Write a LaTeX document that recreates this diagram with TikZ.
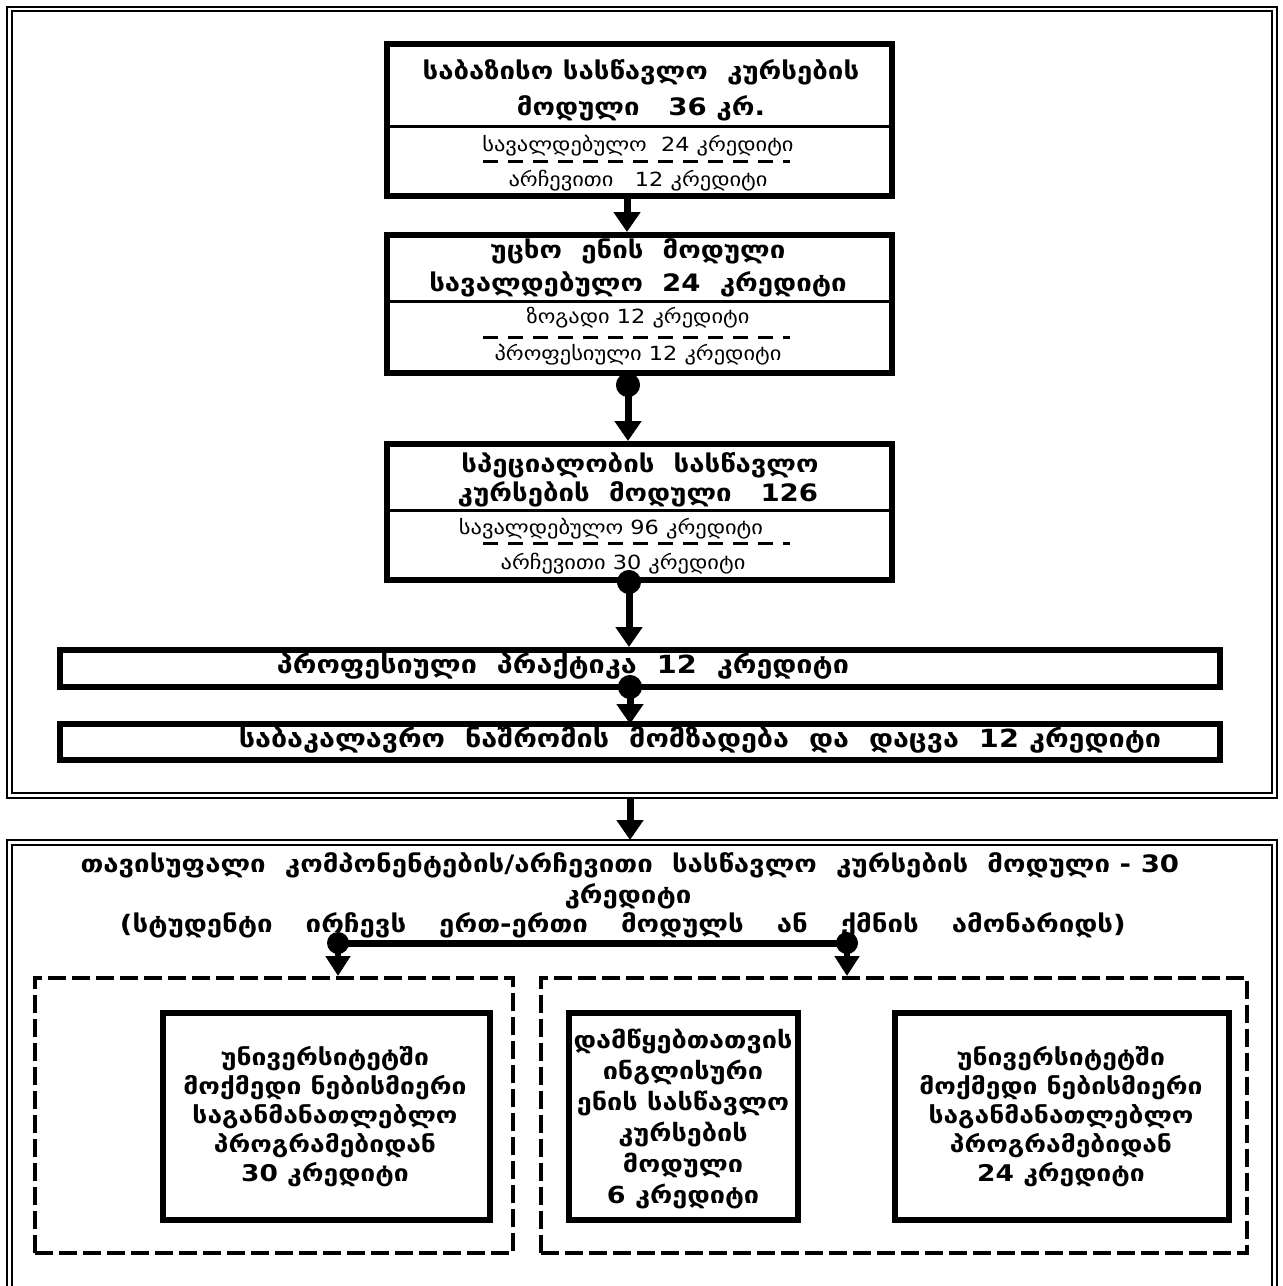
\documentclass[tikz,border=0pt]{standalone}
\usepackage{fontspec}
\setmainfont{DejaVu Sans}[FakeStretch=1.15]
\usetikzlibrary{arrows.meta,calc}
\newcommand{\gp}{\hspace{33pt}}
\begin{document}
\begin{tikzpicture}[x=1pt,y=-1pt,
  box/.style={draw, line width=6pt, inner sep=0pt},
  dbox/.style={draw, line width=4pt, dash pattern=on 18pt off 6pt, inner sep=0pt},
  ibox/.style={draw, line width=6pt, inner sep=0pt},
  conn/.style={line width=7pt, -{Triangle[width=26pt,length=20pt]}},
  dconn/.style={line width=7pt, {Circle[length=24pt]}-{Triangle[width=26pt,length=20pt]}},
  uline/.style={line width=3pt, dash pattern=on 15pt off 10pt},
  ttl/.style={font=\bfseries\fontsize{24}{28}\selectfont, inner sep=0pt},
  sub/.style={font=\fontsize{19.5}{23}\selectfont, inner sep=0pt},
  wide/.style={font=\bfseries\fontsize{24}{27}\selectfont, inner sep=0pt},
  wider/.style={font=\bfseries\fontsize{25}{27}\selectfont, inner sep=0pt},
  inn/.style={font=\bfseries\fontsize{23}{29}\selectfont, align=center, inner sep=0pt},
  innb/.style={font=\bfseries\fontsize{23.5}{31}\selectfont, align=center, inner sep=0pt}]
\useasboundingbox (0,0) rectangle (1283,1286);
% outer double frames
\draw[line width=2.5pt] (7,7) rectangle (1277,798);
\draw[line width=2pt] (11.5,11) rectangle (1272,793);
\draw[line width=2.5pt] (7,1290) -- (7,840) -- (1277,840) -- (1277,1290);
\draw[line width=2pt] (11.5,1290) -- (11.5,844.5) -- (1272,844.5) -- (1272,1290);
% box 1
\node[box, minimum width=505pt, minimum height=152pt] (b1) at (639,120) {};
\draw[line width=3pt] (b1.west |- 0,126.5) -- (b1.east |- 0,126.5);
\node[ttl] (t1a) at (641,72) {საბაზისო სასწავლო \ კურსების};
\node[ttl] (t1b) at (641,108) {მოდული \ \ 36 კრ.};
\node[sub] (t1c) at (638,146) {სავალდებულო \ 24 კრედიტი};
\node[sub] (t1d) at (638,181) {არჩევითი \ \ 12 კრედიტი};
\draw[uline] (483,161) -- (790,161);
% box 2
\node[box, minimum width=505pt, minimum height=138pt] (b2) at (639,304) {};
\draw[line width=3pt] (b2.west |- 0,301.5) -- (b2.east |- 0,301.5);
\node[ttl] (t2a) at (638,251) {უცხო \ ენის \ მოდული};
\node[ttl] (t2b) at (638,284) {სავალდებულო \ 24 \ კრედიტი};
\node[sub] (t2c) at (638,318) {ზოგადი 12 კრედიტი};
\node[sub] (t2d) at (638,355) {პროფესიული 12 კრედიტი};
\draw[uline] (483,337) -- (790,337);
% box 3
\node[box, minimum width=505pt, minimum height=136pt] (b3) at (639,512) {};
\draw[line width=3pt] (b3.west |- 0,510) -- (b3.east |- 0,510);
\node[ttl] (t3a) at (640,465) {სპეციალობის \ სასწავლო};
\node[ttl] (t3b) at (638,494) {კურსების \ მოდული \ \ 126};
\node[sub] (t3c) at (611,529) {სავალდებულო 96 კრედიტი};
\node[sub] (t3d) at (623,564) {არჩევითი 30 კრედიტი};
\draw[uline] (483,543) -- (790,543);
% box 4, 5
\node[box, minimum width=1160pt, minimum height=37pt] (b4) at (640,668.5) {};
\node[wider] (t4) at (563,666) {პროფესიული \ პრაქტიკა \ 12 \ კრედიტი};
\node[box, minimum width=1160pt, minimum height=36pt] (b5) at (640,742) {};
\node[wider] (t5) at (700,740) {საბაკალავრო \ ნაშრომის \ მომზადება \ და \ დაცვა \ 12 კრედიტი};
% connectors top
\draw[conn] ([xshift=-12pt]b1.south) -- ([xshift=-12pt]b2.north);
\draw[dconn] ([xshift=-11pt,yshift=3pt]b2.south) -- ([xshift=-11pt]b3.north);
\draw[dconn] ([xshift=-10pt,yshift=13pt]b3.south) -- ([xshift=-11pt]b4.north);
\draw[dconn] ([xshift=-10pt,yshift=15pt]b4.south) -- ([xshift=-10pt,yshift=-3pt]b5.north);
\coordinate (f1) at (630,799);
\coordinate (f2) at (630,840);
\draw[conn] (f1) -- (f2);
% bottom frame text
\node[wide] (h1) at (630,865) {თავისუფალი \ კომპონენტების/არჩევითი \ სასწავლო \ კურსების \ მოდული - 30};
\node[wide] (h2) at (628,896) {კრედიტი};
\node[wide] (h3) at (623,925) {(სტუდენტი\gp ირჩევს\gp ერთ-ერთი\gp მოდულს\gp ან\gp ქმნის\gp ამონარიდს)};
% dashed boxes
\node[dbox, minimum width=478pt, minimum height=275pt] (dL) at (274,1115.5) {};
\node[dbox, minimum width=706pt, minimum height=275pt] (dR) at (894,1115.5) {};
\coordinate (jL) at (338,943);
\coordinate (jR) at (847,943);
\draw[line width=7pt] (jL) -- (jR);
\fill (jL) circle (11pt);
\fill (jR) circle (11pt);
\draw[line width=6pt, -{Triangle[width=24pt,length=20pt]}] (jL) -- (jL |- dL.north);
\draw[line width=6pt, -{Triangle[width=24pt,length=20pt]}] (jR) -- (jR |- dR.north);
% inner boxes
\node[ibox, minimum width=327pt, minimum height=207pt] (iA) at (326.5,1116) {};
\node[inn] (tA) at (325,1117) {უნივერსიტეტში\\მოქმედი ნებისმიერი\\საგანმანათლებლო\\პროგრამებიდან\\30 კრედიტი};
\node[ibox, minimum width=229pt, minimum height=207pt] (iB) at (683,1116) {};
\node[innb] (tB) at (683,1119) {დამწყებთათვის\\ინგლისური\\ენის სასწავლო\\კურსების\\მოდული\\6 კრედიტი};
\node[ibox, minimum width=334pt, minimum height=207pt] (iC) at (1061.5,1116) {};
\node[inn] (tC) at (1061,1117) {უნივერსიტეტში\\მოქმედი ნებისმიერი\\საგანმანათლებლო\\პროგრამებიდან\\24 კრედიტი};
\end{tikzpicture}
\end{document}
